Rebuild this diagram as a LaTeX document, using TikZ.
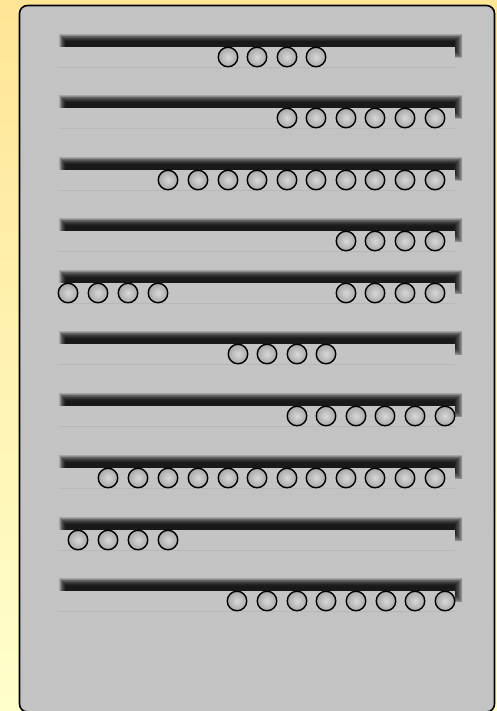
\documentclass[tikz,border=0pt]{standalone}
\definecolor{bgtop}{HTML}{FFE596}
\definecolor{bgbot}{HTML}{FFFFCC}
\definecolor{panelgray}{HTML}{C3C3C3}
\definecolor{rodgray}{HTML}{C4C4C4}
\definecolor{rodedge}{HTML}{B8B8B8}
\definecolor{beadin}{HTML}{D8D8D8}
\definecolor{beadout}{HTML}{A8A8A8}
\begin{document}
\begin{tikzpicture}[x=1pt,y=-1pt,
  bead/.style={circle, minimum size=19.5pt, inner sep=0pt, draw=black, line width=1.4pt, inner color=beadin, outer color=beadout},
  panel/.style={fill=panelgray, draw=black, line width=1.6pt, rounded corners=8pt},
  rod/.style={fill=rodgray},
  rodline/.style={draw=rodedge, line width=0.7pt},
  shadowlayer/.style={fill=black, opacity=0.15}]
\useasboundingbox (0,0) rectangle (497,711);
\shade[top color=bgtop, bottom color=bgbot] (0,0) rectangle (497,711);
\path[panel] (19.5,5.5) rectangle (494.5,712);
\foreach \cy/\beads in {57/{228,257,287,316},
                       118/{287,316,346,375,405,435},
                       180/{168,198,228,257,287,316,346,375,405,435},
                       241/{346,375,405,435},
                       293/{68,98,128,158,346,375,405,435},
                       354/{238,267,297,326},
                       416/{297,326,356,385,415,445},
                       478/{108,138,168,198,228,257,287,316,346,375,405,435},
                       540/{78,108,138,168},
                       601/{237,267,297,326,356,386,415,445}}{
  \foreach \i in {0,...,11}{
    \fill[shadowlayer] (66-\i*0.6,\cy-15.5-\i*0.65) rectangle (454+\i*0.75,\cy-8+\i*0.85);
  }
  \fill[rod] (59,\cy-10) rectangle (455,\cy+10);
  \draw[rodline] (59,\cy+10) -- (455,\cy+10);
  \foreach \bx in \beads{
    \node[bead] (b-\cy-\bx) at (\bx,\cy) {};
  }
}
\end{tikzpicture}
\end{document}
